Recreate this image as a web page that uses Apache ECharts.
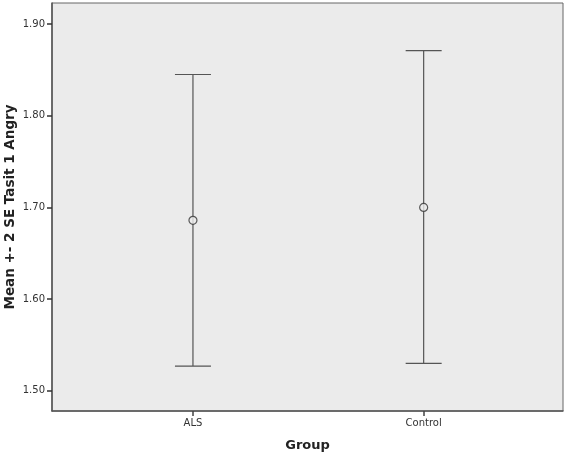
<!DOCTYPE html>
<html>
<head>
<meta charset="utf-8">
<script src="https://cdn.jsdelivr.net/npm/echarts@6/dist/echarts.min.js"></script>
<style>
  html, body { margin: 0; padding: 0; background: #fff; }
  #echart { width: 567px; height: 455px; }
</style>
</head>
<body>
<div id="echart"></div>
<script>
var groups = ['ALS', 'Control'];
var means = [1.686, 1.700];
var upper = [1.845, 1.871];
var lower = [1.527, 1.530];
var yTicks = [1.5, 1.6, 1.7, 1.8, 1.9];

var myChart = echarts.init(document.getElementById('echart'));

var barData = groups.map(function (g, i) { return [i + 1, lower[i], upper[i]]; });
var meanData = groups.map(function (g, i) { return [i + 1, means[i]]; });

var option = {
    animation: false,
    grid: {
        left: 52, right: 4, top: 3, bottom: 44,
        outerBoundsMode: 'none',
        containLabel: false,
        show: true,
        backgroundColor: '#ebebeb',
        borderColor: '#666',
        borderWidth: 1
    },
    xAxis: {
        type: 'value',
        min: 0.389,
        max: 2.604,
        name: 'Group',
        nameLocation: 'middle',
        nameGap: 28,
        nameMoveOverlap: false,
        nameTextStyle: { fontFamily: 'DejaVu Sans', fontWeight: 'bold', fontSize: 13, color: '#222' },
        splitLine: { show: false },
        axisLine: { lineStyle: { color: '#555', width: 1.5 } },
        axisTick: { customValues: [1, 2], length: 5, lineStyle: { color: '#444', width: 1.5 } },
        axisLabel: {
            customValues: [1, 2],
            formatter: function (v) { return groups[Math.round(v) - 1] || ''; },
            fontFamily: 'DejaVu Sans', fontSize: 10, color: '#333', margin: 7
        }
    },
    yAxis: {
        type: 'value',
        min: 1.478,
        max: 1.923,
        name: 'Mean +- 2 SE Tasit 1 Angry',
        nameLocation: 'middle',
        nameGap: 35,
        nameMoveOverlap: false,
        nameTextStyle: { fontFamily: 'DejaVu Sans', fontWeight: 'bold', fontSize: 13.5, color: '#222' },
        splitLine: { show: false },
        axisLine: { show: true, lineStyle: { color: '#555', width: 1.5 } },
        axisTick: { show: true, customValues: yTicks, length: 5, lineStyle: { color: '#333', width: 1.5 } },
        axisLabel: {
            customValues: yTicks,
            formatter: function (v) { return v.toFixed(2); },
            fontFamily: 'DejaVu Sans', fontSize: 10, color: '#333', margin: 7
        }
    },
    series: [
        {
            type: 'custom',
            data: barData,
            renderItem: function (params, api) {
                var x = api.value(0);
                var lo = api.coord([x, api.value(1)]);
                var hi = api.coord([x, api.value(2)]);
                var hw = 18;
                var style = { stroke: '#555', lineWidth: 1.2 };
                return {
                    type: 'group',
                    children: [
                        { type: 'line', shape: { x1: lo[0], y1: lo[1], x2: hi[0], y2: hi[1] }, style: style },
                        { type: 'line', shape: { x1: hi[0] - hw, y1: hi[1], x2: hi[0] + hw, y2: hi[1] }, style: style },
                        { type: 'line', shape: { x1: lo[0] - hw, y1: lo[1], x2: lo[0] + hw, y2: lo[1] }, style: style }
                    ]
                };
            },
            z: 2
        },
        {
            type: 'scatter',
            data: meanData,
            symbol: 'circle',
            symbolSize: 8,
            itemStyle: { color: '#ebebeb', borderColor: '#333', borderWidth: 1.2 },
            z: 3
        }
    ]
};
myChart.setOption(option);
window.onresize = myChart.resize;
</script>
</body>
</html>
